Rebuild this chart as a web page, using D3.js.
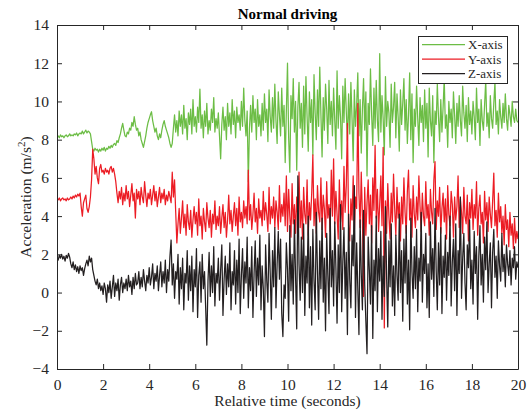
<!DOCTYPE html>
<html>
<head>
<meta charset="utf-8">
<script src="https://cdn.jsdelivr.net/npm/d3@7"></script>
<style>
  body { margin: 0; background: #fff; }
  svg text { font-family: "Liberation Serif", "Times New Roman", serif; fill: #262626; }
  .axis path, .axis line { stroke: #262626; }
</style>
</head>
<body>
<div id="chart"></div>
<script>
// sample spacing of the recordings (seconds)
const dt = 0.05;

// X-axis acceleration, one row per second
const accX = [
  8.15,8.2,8.1,8.25,8.15,8.2,8.1,8.2,8.25,8.15,8.2,8.3,8.2,8.25,8.2,8.3,8.25,8.35,8.2,8.3,
  8.35,8.3,8.45,8.3,8.4,8.5,8.35,8.45,8.4,8.3,7.9,7.5,7.4,7.55,7.45,7.5,7.35,7.5,7.4,7.55,
  7.45,7.6,7.4,7.55,7.5,7.65,7.55,7.7,7.6,7.75,7.8,7.7,7.95,7.85,8.1,8.3,8.6,8.85,8.5,8.2,
  8.15,8.4,8.3,8.6,8.5,8.9,8.7,9.2,8.8,8.5,8.6,8.2,8.4,8.0,7.8,7.6,7.9,8.2,8.6,8.9,
  9.1,9.3,9.46,9.0,8.7,8.4,8.6,8.2,8.0,8.3,8.1,8.5,8.8,9.0,8.7,8.5,8.3,8.1,7.8,7.6,
  7.8,8.6,9.3,8.4,9.0,8.2,9.5,8.7,9.3,8.3,9.8,8.6,9.1,8.0,9.4,8.8,9.6,8.3,10.1,8.7,
  9.2,8.4,9.7,8.9,10.65,8.6,9.3,8.1,9.5,8.7,9.9,8.3,9.0,8.5,9.6,8.9,10.2,8.4,9.1,8.6,
  9.4,8.2,7.0,8.8,9.7,8.5,9.2,8.0,9.9,8.7,9.4,8.3,10.1,8.8,9.5,8.1,9.7,8.9,9.3,8.5,
  10.0,8.7,10.7,9.0,8.2,9.5,5.8,8.6,9.8,8.4,10.3,8.9,9.6,8.0,10.1,8.7,9.3,8.2,9.9,8.5,
  10.4,8.9,9.6,7.9,10.6,9.2,8.4,10.2,8.6,10.9,9.0,7.8,10.5,9.3,8.2,10.7,8.7,9.8,6.8,9.5,
  12.0,8.1,6.3,10.3,9.1,11.2,8.4,10.0,6.4,9.7,11.0,8.6,9.9,7.6,10.8,8.3,11.3,9.2,7.4,10.5,
  8.9,10.1,7.2,11.4,9.4,8.0,10.6,8.7,11.8,9.3,7.1,10.2,8.5,10.9,9.6,7.8,11.1,8.8,10.0,8.2,
  10.7,9.0,7.5,11.6,8.6,10.3,9.2,7.0,10.8,8.9,11.2,9.5,7.9,10.4,8.3,11.0,9.1,6.9,10.6,8.7,
  9.8,11.5,8.2,10.1,7.3,9.6,11.2,8.5,10.5,6.1,9.9,8.8,11.7,9.3,7.7,10.7,8.6,11.1,9.0,7.9,
  12.5,8.4,10.3,9.1,7.2,11.3,8.7,10.0,9.4,7.6,10.9,8.9,9.7,11.0,8.1,10.4,9.2,7.4,10.6,8.8,
  9.9,11.2,8.5,10.1,7.8,9.3,11.5,8.0,10.4,6.8,9.6,8.7,10.8,9.1,7.7,10.2,8.9,9.8,7.9,10.6,
  8.6,9.9,7.1,10.7,9.0,8.2,10.3,6.8,9.5,8.8,10.9,9.2,7.9,10.1,8.4,9.7,11.2,8.6,9.3,7.6,
  10.0,8.9,9.6,8.1,10.5,9.3,7.8,9.9,8.7,10.3,9.0,8.2,10.8,9.4,8.6,9.8,7.9,10.2,8.8,9.5,
  8.3,10.0,9.2,8.0,10.7,8.9,9.6,7.7,10.1,9.0,8.5,9.8,11.1,8.7,9.4,8.1,10.3,9.1,8.6,9.9,
  11.0,8.8,9.5,8.3,10.1,9.2,8.6,9.9,8.9,10.4,9.1,8.5,9.8,9.3,8.7,10.0,9.2,8.9,9.6,9.0,
  8.9
];

// Y-axis acceleration
const accY = [
  4.9,4.85,4.95,4.8,4.9,4.95,4.85,4.9,4.8,4.95,4.85,4.9,5.0,4.9,5.05,4.95,5.1,5.0,5.15,5.05,
  5.2,4.5,4.0,4.7,4.9,5.1,4.4,4.2,4.5,5.0,5.9,7.5,7.0,6.2,6.6,6.0,5.7,6.5,6.7,6.3,
  6.4,6.2,6.5,6.3,6.4,6.2,6.5,6.6,6.3,6.5,6.2,5.8,5.2,4.7,5.3,4.9,5.5,4.6,5.2,4.8,
  5.6,4.9,5.3,4.5,5.1,5.7,4.8,5.2,3.9,5.4,4.9,5.3,4.6,5.5,5.0,4.7,5.8,5.1,4.5,5.2,
  4.9,5.4,4.6,5.1,5.6,4.8,5.3,4.5,5.0,5.5,4.7,5.2,4.9,5.4,4.6,5.1,4.8,5.3,5.0,4.7,
  6.3,5.0,5.9,4.2,2.6,3.6,4.4,3.1,3.9,4.8,3.4,4.1,3.0,4.6,3.7,3.3,4.3,2.9,3.8,4.5,
  3.6,4.2,3.0,4.9,3.5,4.0,2.8,4.4,3.7,3.2,4.7,3.9,3.4,4.3,2.9,4.1,3.6,4.8,3.3,4.0,
  3.5,4.5,3.1,3.9,4.6,3.4,4.2,2.9,3.8,5.1,3.6,4.3,3.2,4.0,4.7,3.5,4.4,3.0,5.0,3.7,
  4.2,3.4,4.8,3.9,4.5,3.6,6.4,3.8,4.6,3.3,4.1,5.2,3.7,4.4,3.1,4.9,3.9,4.3,3.5,5.3,
  3.8,4.7,4.1,3.2,5.5,3.6,4.5,3.9,5.0,3.4,4.8,4.2,3.3,5.6,3.7,4.6,4.0,5.2,3.5,6.1,
  3.2,5.4,4.0,2.9,5.7,3.6,4.6,3.1,5.0,3.9,6.3,3.4,4.8,2.8,5.5,4.1,3.6,5.9,3.0,4.7,
  3.8,5.2,7.2,3.5,4.9,3.1,5.6,4.2,3.7,6.0,3.3,5.1,4.4,2.9,5.8,3.9,4.6,3.2,6.4,4.0,
  7.0,3.6,5.3,4.1,2.8,5.9,3.7,4.8,3.3,6.6,4.2,5.6,8.85,3.5,2.7,4.9,3.8,6.1,3.2,5.0,
  4.4,9.9,5.2,3.4,6.3,4.0,-0.2,5.5,3.0,4.7,5.9,3.6,5.1,2.6,6.0,4.3,7.7,3.9,5.4,3.2,
  4.6,6.1,3.5,7.6,-1.85,4.8,3.1,5.7,4.0,2.8,5.2,3.7,6.2,4.4,3.0,5.5,3.9,4.7,2.7,5.0,
  3.6,6.0,4.2,3.1,5.3,6.4,3.8,4.9,2.9,5.6,4.1,3.4,5.0,3.8,6.1,4.5,3.2,5.2,4.0,3.5,
  5.8,3.9,4.6,3.0,5.4,4.2,3.6,5.9,6.85,3.3,4.8,4.0,5.5,3.1,4.4,5.2,3.7,4.9,2.8,5.6,
  4.1,3.5,5.3,4.6,2.9,5.0,3.8,4.5,6.1,3.4,4.9,4.2,3.1,5.5,4.0,3.6,5.1,2.7,4.7,3.9,
  5.4,3.3,4.6,3.9,5.8,3.0,4.4,5.1,3.6,4.2,2.6,5.3,3.8,4.7,3.2,5.0,4.1,3.4,4.8,6.25,
  3.5,4.3,2.9,5.2,3.7,4.5,3.1,4.0,2.5,4.6,3.3,3.8,2.4,4.2,3.0,3.6,2.3,3.9,2.6,3.2,
  2.8
];

// Z-axis acceleration
const accZ = [
  1.85,1.7,1.95,1.8,2.0,1.75,1.9,1.65,1.95,1.8,2.05,1.85,1.5,1.3,1.6,1.2,1.45,1.1,1.35,1.0,
  1.4,1.15,1.3,0.9,1.25,1.5,1.7,1.4,1.9,1.6,1.8,1.2,0.9,0.6,0.4,0.7,0.2,0.5,0.1,0.35,
  -0.1,0.5,0.2,-0.5,0.4,0.0,0.6,-0.3,0.3,0.9,-0.2,0.5,0.1,0.7,-0.4,0.4,0.8,0.0,0.5,0.2,
  0.7,0.1,0.9,0.3,0.6,-0.1,0.8,0.2,1.0,0.4,0.5,1.1,0.2,0.8,0.3,1.2,0.6,0.1,0.9,0.5,
  1.3,0.4,0.8,1.5,0.2,1.0,0.6,1.4,0.1,0.9,1.6,0.3,1.1,0.5,1.7,0.0,1.2,0.6,1.9,2.75,
  0.4,1.5,-0.3,1.1,0.7,2.0,-0.6,1.3,0.2,1.8,-0.9,1.0,0.5,2.2,-0.4,1.4,0.1,1.9,-1.0,1.2,
  0.3,2.3,-1.3,0.9,1.6,-0.5,2.0,0.2,1.1,-0.8,-2.75,0.6,2.1,-0.2,1.4,0.0,2.4,-0.7,1.0,0.5,
  1.8,-0.4,1.2,2.5,-1.2,0.7,1.9,-0.1,1.5,0.3,2.6,-0.9,1.1,0.4,2.2,-0.6,1.7,0.0,2.8,-1.1,
  0.9,2.3,-0.3,1.6,0.5,2.9,-0.8,1.3,0.1,2.4,-1.3,1.0,2.7,-0.2,1.8,0.4,3.0,-0.9,1.4,0.2,
  -2.3,2.5,0.6,-0.5,3.1,1.0,-1.4,2.2,0.3,3.4,-0.8,1.5,3.2,0.7,2.8,-1.1,-2.3,0.4,-0.3,2.6,
  1.2,-1.5,3.5,0.1,2.0,-0.6,3.8,0.8,-1.9,6.1,1.5,-0.4,2.9,0.0,3.6,-1.2,1.9,0.5,4.0,-0.8,
  2.4,-1.7,3.3,0.6,-0.9,4.2,1.1,-1.4,2.7,0.2,3.9,-0.5,1.8,-2.0,3.1,0.9,-1.1,4.4,0.3,2.2,
  -0.7,3.7,1.3,-1.6,2.5,0.0,4.6,-1.0,1.6,3.4,-0.3,2.1,-2.2,4.1,0.7,-0.8,3.0,1.4,5.6,-1.3,
  2.6,0.2,-2.2,3.8,1.0,-0.9,4.3,0.4,-1.5,-3.2,2.9,1.2,-0.6,3.5,-2.4,1.7,0.1,4.0,-1.0,2.3,
  0.6,3.2,-1.4,1.9,-0.2,4.5,0.8,-1.8,2.7,0.3,3.6,-0.7,1.4,-1.2,3.0,0.9,-0.4,4.1,0.0,2.2,
  -1.5,2.8,0.5,3.5,-0.6,1.7,-1.95,3.9,1.1,-0.3,2.4,0.2,3.3,-1.0,1.8,0.6,4.2,-0.5,2.0,1.0,
  3.1,-0.8,1.5,-1.3,3.7,0.7,2.3,-0.2,4.4,1.2,-0.9,2.6,0.4,3.4,-1.1,1.9,0.8,3.0,-0.4,2.1,
  0.9,4.0,-0.7,1.6,2.8,0.1,3.6,-1.2,2.2,1.0,5.0,-0.3,1.8,3.1,0.5,-0.9,2.5,1.3,3.8,0.2,
  1.7,-0.6,3.2,1.0,2.4,-1.4,1.9,3.5,0.4,2.0,-0.5,2.9,1.2,3.7,0.0,1.5,2.6,-0.8,2.1,3.3,
  0.8,1.9,-0.3,2.7,1.4,0.6,3.1,1.1,2.0,0.3,2.5,1.5,0.9,2.2,0.4,1.8,1.3,2.4,0.7,1.6,
  1.3
];

const seriesNames = ['X-axis', 'Y-axis', 'Z-axis'];
const seriesColors = ['#6cbd45', '#ec1c24', '#231f20'];
const xTicks = [0, 2, 4, 6, 8, 10, 12, 14, 16, 18, 20];
const yTicks = [-4, -2, 0, 2, 4, 6, 8, 10, 12, 14];

const width = 532, height = 413;
const margin = {top: 25, right: 14, bottom: 44, left: 57};
const innerW = width - margin.left - margin.right;
const innerH = height - margin.top - margin.bottom;

const svg = d3.select('#chart').append('svg')
    .attr('width', width)
    .attr('height', height);

const x = d3.scaleLinear().domain([0, 20]).range([margin.left, margin.left + innerW]);
const y = d3.scaleLinear().domain([-4, 14]).range([margin.top + innerH, margin.top]);

const plot = svg.append('g');
plot.append('defs').append('clipPath').attr('id', 'clip')
    .append('rect')
    .attr('x', margin.left).attr('y', margin.top)
    .attr('width', innerW).attr('height', innerH);

const line = d3.line()
    .x((d, i) => x(i * dt))
    .y(d => y(d));

[accX, accY, accZ].forEach((s, k) => {
    plot.append('path')
        .datum(s)
        .attr('clip-path', 'url(#clip)')
        .attr('fill', 'none')
        .attr('stroke', seriesColors[k])
        .attr('stroke-width', 1.25)
        .attr('stroke-linejoin', 'round')
        .attr('d', line);
});

//axes with ticks pointing inward, box on all sides
const fmt = d3.format('d');
svg.append('g').attr('class', 'axis')
    .attr('transform', `translate(0,${margin.top + innerH})`)
    .call(d3.axisBottom(x).tickValues(xTicks).tickFormat(fmt).tickSizeInner(-5).tickSizeOuter(0).tickPadding(10))
    .call(g => g.selectAll('text').style('font-size', '15.5px'));
svg.append('g').attr('class', 'axis')
    .attr('transform', `translate(0,${margin.top})`)
    .call(d3.axisTop(x).tickValues(xTicks).tickFormat('').tickSizeInner(-5).tickSizeOuter(0));
svg.append('g').attr('class', 'axis')
    .attr('transform', `translate(${margin.left},0)`)
    .call(d3.axisLeft(y).tickValues(yTicks).tickFormat(fmt).tickSizeInner(-5).tickSizeOuter(0).tickPadding(8))
    .call(g => g.selectAll('text').style('font-size', '15.5px'));
svg.append('g').attr('class', 'axis')
    .attr('transform', `translate(${margin.left + innerW},0)`)
    .call(d3.axisRight(y).tickValues(yTicks).tickFormat('').tickSizeInner(-5).tickSizeOuter(0));
svg.selectAll('.axis text').attr('font-family', null);

// title and axis labels
svg.append('text')
    .attr('x', margin.left + innerW / 2)
    .attr('y', 19)
    .attr('text-anchor', 'middle')
    .style('font-size', '15px')
    .style('font-weight', 'bold')
    .style('fill', '#000')
    .text('Normal driving');

svg.append('text')
    .attr('x', margin.left + innerW / 2)
    .attr('y', 406)
    .attr('text-anchor', 'middle')
    .style('font-size', '15.5px')
    .text('Relative time (seconds)');

const ylab = svg.append('text')
    .attr('transform', `translate(31,${margin.top + innerH / 2}) rotate(-90)`)
    .attr('text-anchor', 'middle')
    .style('font-size', '15.5px');
ylab.append('tspan').text('Acceleration (m/s');
ylab.append('tspan').attr('dy', -6).style('font-size', '11px').text('2');
ylab.append('tspan').attr('dy', 6).text(')');

// legend
const lg = svg.append('g');
lg.append('rect')
    .attr('x', 418.5).attr('y', 36.5)
    .attr('width', 89).attr('height', 47)
    .attr('fill', '#fff')
    .attr('stroke', '#262626')
    .attr('stroke-width', 1);
seriesNames.forEach((name, k) => {
    const ly = 44.5 + k * 14.6;
    lg.append('line')
        .attr('x1', 422).attr('x2', 465)
        .attr('y1', ly).attr('y2', ly)
        .attr('stroke', seriesColors[k])
        .attr('stroke-width', 1.25);
    lg.append('text')
        .attr('x', 468).attr('y', ly)
        .attr('dy', '0.35em')
        .style('font-size', '13px')
        .text(name);
});
</script>
</body>
</html>
